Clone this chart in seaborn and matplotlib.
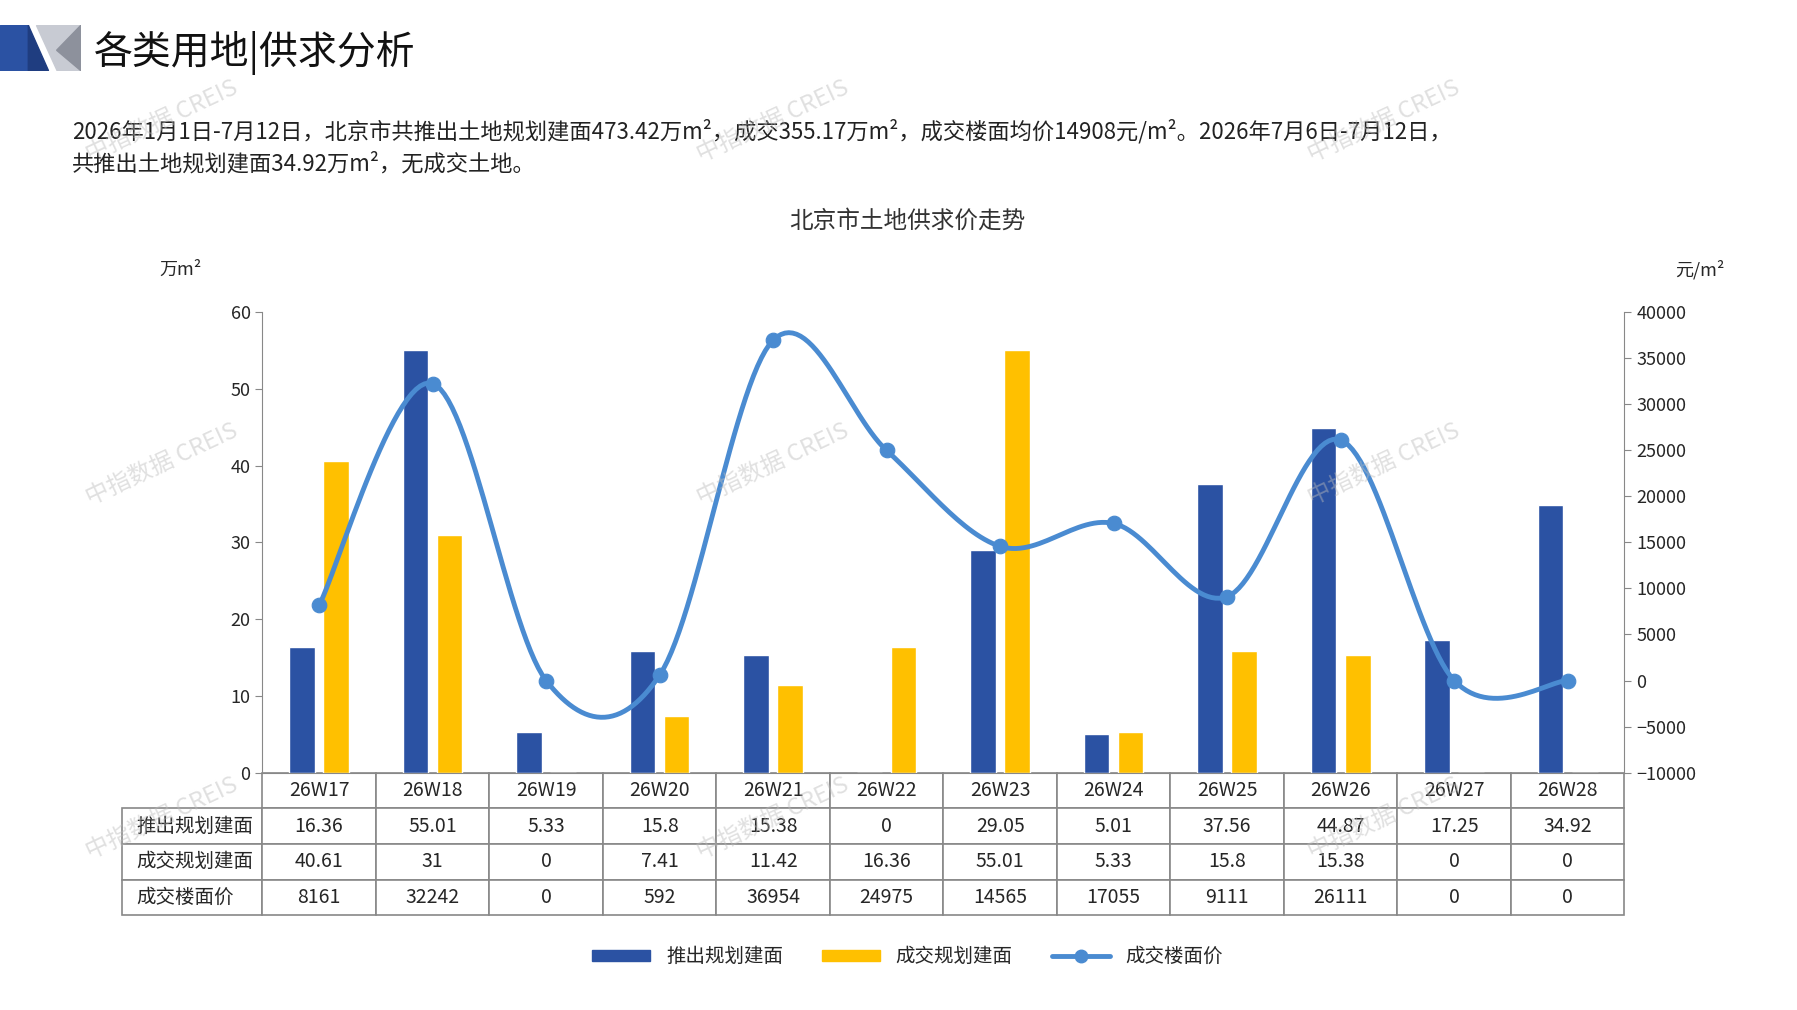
import numpy as np
import pandas as pd
import matplotlib
matplotlib.use("Agg")
import matplotlib.pyplot as plt
import seaborn as sns
from matplotlib.patches import Polygon, Patch
from matplotlib.lines import Line2D

sns.set_style("white")
plt.rcParams['font.family'] = ['Noto Sans CJK SC', 'DejaVu Sans']

weeks = ['26W17', '26W18', '26W19', '26W20', '26W21', '26W22',
         '26W23', '26W24', '26W25', '26W26', '26W27', '26W28']
supply = [16.36, 55.01, 5.33, 15.8, 15.38, 0, 29.05, 5.01, 37.56, 44.87, 17.25, 34.92]
deal = [40.61, 31, 0, 7.41, 11.42, 16.36, 55.01, 5.33, 15.8, 15.38, 0, 0]
price = [8161, 32242, 0, 592, 36954, 24975, 14565, 17055, 9111, 26111, 0, 0]
supply_txt = ['16.36', '55.01', '5.33', '15.8', '15.38', '0', '29.05', '5.01', '37.56', '44.87', '17.25', '34.92']
deal_txt = ['40.61', '31', '0', '7.41', '11.42', '16.36', '55.01', '5.33', '15.8', '15.38', '0', '0']
price_txt = [str(p) for p in price]

BLUE = '#2B52A3'
YELLOW = '#FFC000'
LINE = '#4A8BD1'

df = pd.DataFrame({
    'week': weeks * 2,
    'value': supply + deal,
    'series': ['推出规划建面'] * 12 + ['成交规划建面'] * 12,
})

fig = plt.figure(figsize=(17.97, 10.10), dpi=100)
ax = fig.add_axes([0.146, 0.235, 0.758, 0.456])

sns.barplot(data=df, x='week', y='value', hue='series', palette=[BLUE, YELLOW],
            width=0.6, gap=0.25, ax=ax, legend=False, saturation=1)
ax.set_xlim(-0.5, 11.5)
ax.set_ylim(0, 60)
ax.set_yticks(range(0, 61, 10))
ax.set_xticks([])
ax.set_xlabel('')
ax.set_ylabel('')
for s in ['top', 'right']:
    ax.spines[s].set_visible(False)
ax.spines['left'].set_color('#888888')
ax.spines['bottom'].set_color('#888888')
ax.tick_params(axis='y', labelsize=13, length=5, color='#888888', direction='out', left=True)

ax2 = ax.twinx()
ax2.set_ylim(-10000, 40000)
ax2.set_yticks(range(-10000, 40001, 5000))
for s in ['top', 'left', 'bottom']:
    ax2.spines[s].set_visible(False)
ax2.spines['right'].set_color('#888888')
ax2.tick_params(axis='y', labelsize=13, length=5, color='#888888', right=True)

# smooth curve (Catmull-Rom) through the price points
xs = np.arange(len(price), dtype=float)
ys = np.array(price, dtype=float)
px = np.concatenate([[xs[0]], xs, [xs[-1]]])
py = np.concatenate([[ys[0]], ys, [ys[-1]]])
cx, cy = [], []
t = np.linspace(0, 1, 30)
for i in range(1, len(px) - 2):
    for arr, out in ((px, cx), (py, cy)):
        p0, p1, p2, p3 = arr[i - 1], arr[i], arr[i + 1], arr[i + 2]
        out.extend(0.5 * (2 * p1 + (-p0 + p2) * t + (2 * p0 - 5 * p1 + 4 * p2 - p3) * t ** 2
                          + (-p0 + 3 * p1 - 3 * p2 + p3) * t ** 3))
ax2.plot(cx, cy, color=LINE, lw=3.5, zorder=3)
sns.scatterplot(x=xs, y=ys, color=LINE, s=110, ax=ax2, zorder=4, edgecolor=LINE)

# data table under the chart
cell_text = [supply_txt, deal_txt, price_txt]
tbl = ax.table(cellText=cell_text, rowLabels=['推出规划建面', '成交规划建面', '成交楼面价'],
               colLabels=weeks, cellLoc='center', rowLoc='left',
               bbox=[0, -0.31, 1, 0.31])
tbl.auto_set_font_size(False)
tbl.set_fontsize(14)
for (r, c), cell in tbl.get_celld().items():
    cell.set_edgecolor('#888888')
    cell.set_linewidth(1.2)

ax.text(-0.06, 1.08, '万m²', transform=ax.transAxes, fontsize=13, ha='center')
ax2.text(1.055, 1.08, '元/m²', transform=ax2.transAxes, fontsize=13, ha='center')
fig.text(0.505, 0.775, '北京市土地供求价走势', fontsize=17, ha='center', color='#333333')

# header
hdr = fig.add_axes([0, 0.93, 0.045, 0.045])
hdr.axis('off')
hdr.set_xlim(0, 1)
hdr.set_ylim(0, 1)
hdr.add_patch(Polygon([[0, 0], [0.35, 0], [0.35, 1], [0, 1]], color='#2B52A3'))
hdr.add_patch(Polygon([[0.35, 1], [0.6, 0], [0.35, 0]], color='#1F3D80'))
hdr.add_patch(Polygon([[0.45, 1], [1, 1], [1, 0], [0.7, 0]], color='#C8CBD3'))
hdr.add_patch(Polygon([[0.7, 0.45], [1, 1], [1, 0]], color='#8D919C'))
fig.text(0.052, 0.948, '各类用地|供求分析', fontsize=28, va='center', color='#111111')
fig.text(0.04, 0.87, '2026年1月1日-7月12日，北京市共推出土地规划建面473.42万m²，成交355.17万m²，成交楼面均价14908元/m²。2026年7月6日-7月12日，',
         fontsize=16, va='center', color='#222222')
fig.text(0.04, 0.838, '共推出土地规划建面34.92万m²，无成交土地。', fontsize=16, va='center', color='#222222')

# watermarks
for wx, wy in [(0.09, 0.88), (0.43, 0.88), (0.77, 0.88), (0.09, 0.54), (0.43, 0.54),
               (0.77, 0.54), (0.09, 0.19), (0.43, 0.19), (0.77, 0.19)]:
    fig.text(wx, wy, '中指数据 CREIS', fontsize=17, rotation=25, color='#BBBBBB',
             alpha=0.45, ha='center', va='center')

# legend
handles = [Patch(color=BLUE, label='推出规划建面'), Patch(color=YELLOW, label='成交规划建面'),
           Line2D([0], [0], color=LINE, lw=3.5, marker='o', ms=9, label='成交楼面价')]
fig.legend(handles=handles, loc='center', bbox_to_anchor=(0.505, 0.053), ncol=3,
           frameon=False, fontsize=14, handlelength=3, handleheight=0.5, columnspacing=2)

fig.savefig('out.png', dpi=100)
